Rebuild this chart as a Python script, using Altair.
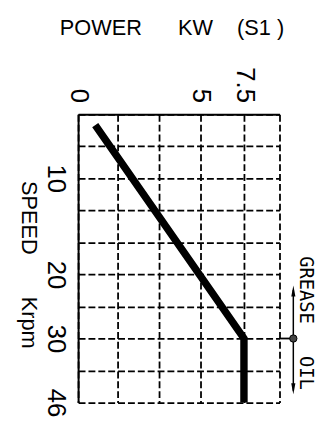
import altair as alt
import pandas as pd

# ---- data ----
speed_krpm = [1.7, 30, 46]
power_kw = [0.7, 7.5, 7.5]

power_ticks = [0, 1.6, 3.3, 5, 7.5, 9.5]
power_labels = ["0", "", "", "5", "7.5", ""]
speed_ticks = [0, 5, 10, 13.3, 16.7, 20, 25, 30, 38, 46]
speed_labels = ["", "", "10", "", "", "20", "", "30", "", "46"]

power_breaks = [0, 5, 7.5, 9.5]
speed_breaks = [0, 10, 20, 30, 46]

split_speed = [30]
title_text = "POWER\u00a0\u00a0\u00a0\u00a0\u00a0\u00a0KW\u00a0\u00a0\u00a0\u00a0(S1\u00a0)"
speed_title = "SPEED\u00a0\u00a0\u00a0\u00a0\u00a0\u00a0\u00a0Krpm"
grease_text = ["GREASE"]
oil_text = ["OIL"]

# ---- layout ----
W, H = 204, 292
ROW = H / 9
power_range = [0, 124, 168, 204]
speed_range = [0, 2 * ROW, 5 * ROW, 7 * ROW, 9 * ROW]


def label_expr(ticks, labels):
    parts = [f"datum.value == {v} ? '{l}'" for v, l in zip(ticks, labels) if l]
    return " : ".join(parts) + " : ''"


df = pd.DataFrame({"speed": speed_krpm, "power": power_kw})

common_axis = dict(
    labelFontSize=26,
    labelFont="Liberation Sans",
    labelColor="black",
    labelOverlap=False,
    tickCount=40,
    ticks=False,
    tickSize=0,
    domainColor="black",
    domainWidth=2,
    grid=True,
    gridColor="black",
    gridDash=[7, 3],
    gridWidth=1.8,
    gridOpacity=1,
    titleFont="Liberation Sans",
    titleFontSize=22,
    titleFontWeight="normal",
    titleColor="black",
)

x_enc = alt.X(
    "power:Q",
    scale=alt.Scale(domain=power_breaks, range=power_range, nice=False, zero=False),
    axis=alt.Axis(
        orient="top",
        values=power_ticks,
        labelExpr=label_expr(power_ticks, power_labels),
        labelAngle=90,
        labelAlign="right",
        labelBaseline="middle",
        labelPadding=12,
        title=title_text,
        titleAlign="left",
        titleBaseline="alphabetic",
        titleX=-19,
        titleY=-81,
        **common_axis,
    ),
)

y_enc = alt.Y(
    "speed:Q",
    scale=alt.Scale(domain=speed_breaks, range=speed_range, nice=False, zero=False),
    axis=alt.Axis(
        orient="left",
        values=speed_ticks,
        labelExpr=label_expr(speed_ticks, speed_labels),
        labelAngle=90,
        labelAlign="center",
        labelBaseline="top",
        labelPadding=10,
        title=speed_title,
        titleAngle=90,
        titleAlign="center",
        titleBaseline="middle",
        titleX=-50,
        titleY=152,
        **common_axis,
    ),
)

line = alt.Chart(df).mark_line(
    color="black", strokeWidth=7.5, strokeCap="butt", strokeJoin="miter"
).encode(x=x_enc, y=y_enc)

one = pd.DataFrame({"speed": split_speed})

connector = alt.Chart(one).mark_rule(color="black", strokeWidth=1.8).encode(
    x=alt.value(204), x2=alt.value(218), y=alt.Y("speed:Q")
)
shaft = alt.Chart(one).mark_rule(color="black", strokeWidth=1.5).encode(
    x=alt.value(218), y=alt.value(178), y2=alt.value(280)
)
head_up = alt.Chart(one).mark_point(
    shape="M0,-1L0.38,1L-0.38,1Z", filled=True, color="black", size=121, opacity=1
).encode(x=alt.value(218), y=alt.value(179))
head_down = alt.Chart(one).mark_point(
    shape="M0,1L0.38,-1L-0.38,-1Z", filled=True, color="black", size=121, opacity=1
).encode(x=alt.value(218), y=alt.value(278))
dot = alt.Chart(one).mark_point(
    filled=True, fill="#444444", stroke="black", strokeWidth=1, size=55, opacity=1
).encode(x=alt.value(218), y=alt.Y("speed:Q"))

grease = alt.Chart(pd.DataFrame({"t": grease_text})).mark_text(
    angle=90, font="DejaVu Sans Mono", fontSize=19, color="black",
    align="center", baseline="middle"
).encode(x=alt.value(231), y=alt.value(178), text="t:N")
oil = alt.Chart(pd.DataFrame({"t": oil_text})).mark_text(
    angle=90, font="DejaVu Sans Mono", fontSize=19, color="black",
    align="center", baseline="middle"
).encode(x=alt.value(231), y=alt.value(262), text="t:N")

chart = alt.layer(
    line, connector, shaft, head_up, head_down, dot, grease, oil
).properties(
    width=W,
    height=H,
    autosize=alt.AutoSizeParams(type="none"),
    padding={"left": 71, "top": 105, "right": 39, "bottom": 15},
    background="white",
).configure_view(stroke="transparent")

chart.save("out.html", embed_options={"renderer": "svg", "actions": False})
